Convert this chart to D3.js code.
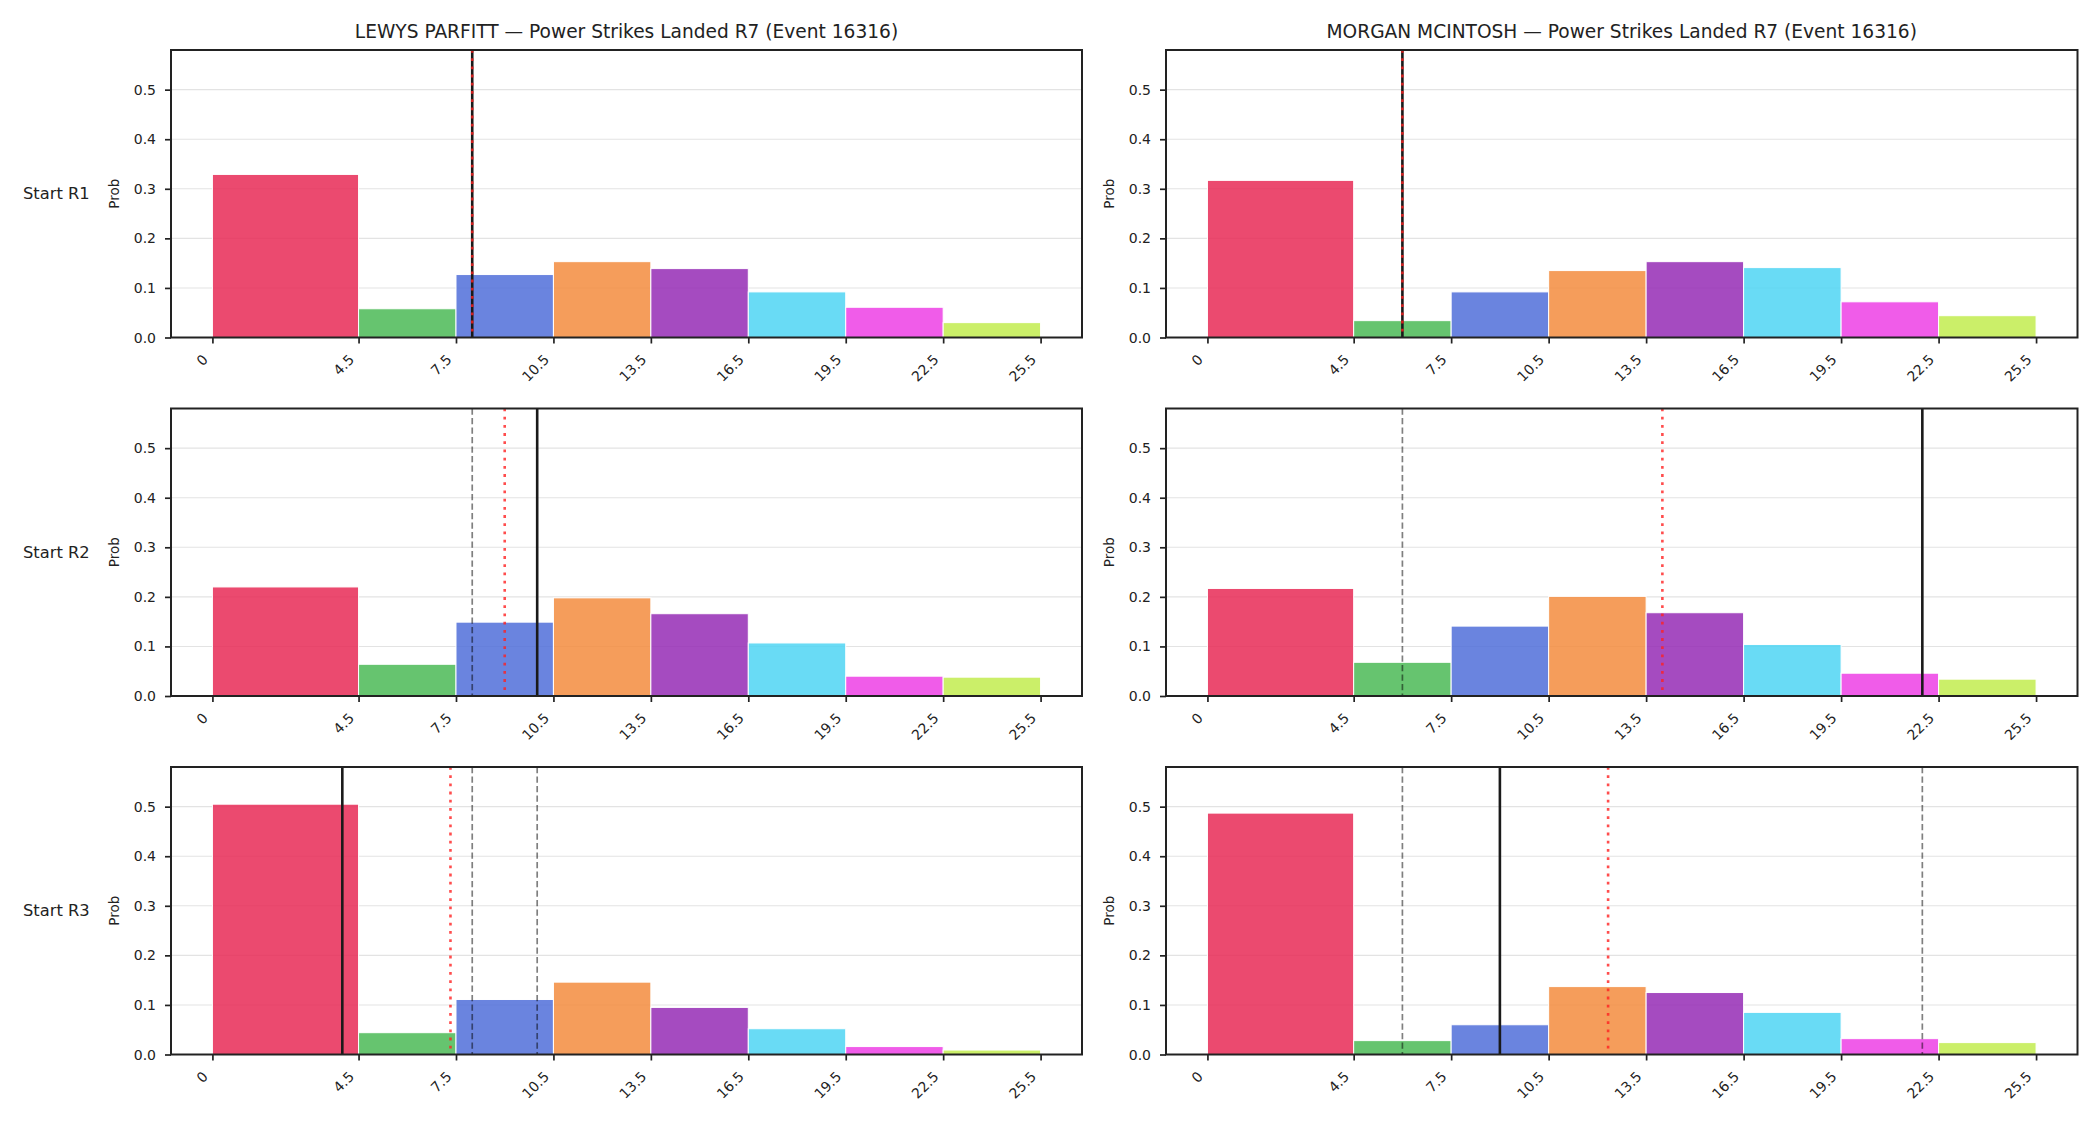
<!DOCTYPE html>
<html>
<head>
<meta charset="utf-8">
<script src="https://cdn.jsdelivr.net/npm/d3@7"></script>
<style>
  html, body { margin: 0; padding: 0; background: #fff; }
  svg { display: block; font-family: "DejaVu Sans", sans-serif; }
</style>
</head>
<body>
<svg id="chart" width="2100" height="1125"></svg>
<script>
// ---------------- data ----------------
const binEdges = [0, 4.5, 7.5, 10.5, 13.5, 16.5, 19.5, 22.5, 25.5];
const xTickLabels = ["0", "4.5", "7.5", "10.5", "13.5", "16.5", "19.5", "22.5", "25.5"];
const yTicks = [0.0, 0.1, 0.2, 0.3, 0.4, 0.5];
const fighters = ["LEWYS PARFITT", "MORGAN MCINTOSH"];
const roundLabels = ["Start R1", "Start R2", "Start R3"];
const titleSuffix = " — Power Strikes Landed R7 (Event 16316)";

// probability per bin, per round (rows)
const parfittR1 = [0.329, 0.058, 0.127, 0.153, 0.139, 0.092, 0.061, 0.030];
const parfittR2 = [0.220, 0.064, 0.149, 0.198, 0.166, 0.107, 0.040, 0.038];
const parfittR3 = [0.505, 0.044, 0.111, 0.146, 0.095, 0.052, 0.016, 0.009];
const mcintoshR1 = [0.317, 0.034, 0.092, 0.135, 0.153, 0.141, 0.072, 0.044];
const mcintoshR2 = [0.217, 0.068, 0.141, 0.201, 0.168, 0.104, 0.046, 0.034];
const mcintoshR3 = [0.487, 0.028, 0.060, 0.137, 0.125, 0.085, 0.032, 0.024];

// per-round reference lines
const parfittActual = [8, 10, 4];        // solid black (this round), dashed (earlier rounds)
const parfittMean = [8, 9, 7.33];        // dotted red
const mcintoshActual = [6, 22, 9];
const mcintoshMean = [6, 14, 12.33];

// ---------------- style ----------------
const binColors = ["#E72A56", "#4BBA56", "#506ED9", "#F38C3E", "#952BB5", "#4FD5F3", "#ED3FE5", "#C2EC4F"];
const cols = [{ x0: 171, x1: 1082 }, { x0: 1166, x1: 2077.5 }];
const rowTops = [50, 408.5, 767];
const axH = 287.5;
const ink = "#222";
const tickFont = "14px";

const panels = [
  { f: 0, r: 0, probs: parfittR1, actual: parfittActual, mean: parfittMean },
  { f: 0, r: 1, probs: parfittR2, actual: parfittActual, mean: parfittMean },
  { f: 0, r: 2, probs: parfittR3, actual: parfittActual, mean: parfittMean },
  { f: 1, r: 0, probs: mcintoshR1, actual: mcintoshActual, mean: mcintoshMean },
  { f: 1, r: 1, probs: mcintoshR2, actual: mcintoshActual, mean: mcintoshMean },
  { f: 1, r: 2, probs: mcintoshR3, actual: mcintoshActual, mean: mcintoshMean },
];

const svg = d3.select("#chart");
const defs = svg.append("defs");
const pad = 0.05 * (binEdges[binEdges.length - 1] - binEdges[0]);

panels.forEach((p, idx) => {
  const c = cols[p.f];
  const top = rowTops[p.r], bottom = top + axH;
  const x = d3.scaleLinear().domain([binEdges[0] - pad, binEdges[binEdges.length - 1] + pad]).range([c.x0, c.x1]);
  const y = d3.scaleLinear().domain([0, 0.58]).range([bottom, top]);

  defs.append("clipPath").attr("id", "clip" + idx)
    .append("rect").attr("x", c.x0).attr("y", top).attr("width", c.x1 - c.x0).attr("height", axH);

  const g = svg.append("g");
  const plot = g.append("g").attr("clip-path", `url(#clip${idx})`);

  // grid
  plot.selectAll("line.grid").data(yTicks.filter(t => t > 0)).join("line")
    .attr("x1", c.x0).attr("x2", c.x1)
    .attr("y1", d => y(d)).attr("y2", d => y(d))
    .attr("stroke", "#e3e3e3").attr("stroke-width", 1.1);

  // bars
  plot.selectAll("rect.bar").data(p.probs).join("rect")
    .attr("x", (d, i) => x(binEdges[i]))
    .attr("width", (d, i) => x(binEdges[i + 1]) - x(binEdges[i]))
    .attr("y", d => y(d))
    .attr("height", d => y(0) - y(d))
    .attr("fill", (d, i) => binColors[i])
    .attr("fill-opacity", 0.85)
    .attr("stroke", "#fff").attr("stroke-width", 1);

  // previous rounds (dashed)
  const prev = p.actual.slice(0, p.r);
  plot.selectAll("line.prev").data(prev).join("line")
    .attr("x1", d => x(d)).attr("x2", d => x(d))
    .attr("y1", top).attr("y2", bottom)
    .attr("stroke", "#000").attr("stroke-opacity", 0.5)
    .attr("stroke-width", 1.7).attr("stroke-dasharray", "6.3,3.2");

  // current round (solid)
  plot.append("line")
    .attr("x1", x(p.actual[p.r])).attr("x2", x(p.actual[p.r]))
    .attr("y1", top).attr("y2", bottom)
    .attr("stroke", "#1a1a1a").attr("stroke-width", 2.6);

  // running mean (dotted red)
  plot.append("line")
    .attr("x1", x(p.mean[p.r])).attr("x2", x(p.mean[p.r]))
    .attr("y1", top).attr("y2", bottom)
    .attr("stroke", "#ff2020").attr("stroke-opacity", 0.8)
    .attr("stroke-width", 2.6).attr("stroke-dasharray", "2.8,5.4");

  // y axis (tick marks from d3 axis, labels placed with the same scale)
  const ya = g.append("g").attr("transform", `translate(${c.x0},0)`)
    .call(d3.axisLeft(y).tickValues(yTicks).tickSize(6).tickFormat(""));
  ya.select(".domain").remove();
  ya.selectAll(".tick line").attr("stroke", ink).attr("stroke-width", 1.7);
  g.selectAll("text.ylab").data(yTicks).join("text")
    .attr("x", c.x0 - 15).attr("y", d => y(d)).attr("dy", "0.36em")
    .attr("text-anchor", "end").attr("fill", ink)
    .style("font-size", tickFont).style("font-family", "DejaVu Sans")
    .text(d => d3.format(".1f")(d));

  // x axis
  const xa = g.append("g").attr("transform", `translate(0,${bottom})`)
    .call(d3.axisBottom(x).tickValues(binEdges).tickSize(6).tickFormat(""));
  xa.select(".domain").remove();
  xa.selectAll(".tick line").attr("stroke", ink).attr("stroke-width", 1.7);
  g.selectAll("text.xlab").data(binEdges).join("text")
    .attr("text-anchor", "end").attr("fill", ink)
    .style("font-size", tickFont).style("font-family", "DejaVu Sans")
    .attr("transform", d => `translate(${x(d) - 3.5},${bottom + 23}) rotate(-45)`)
    .text((d, i) => xTickLabels[i]);

  // frame
  g.append("rect").attr("x", c.x0).attr("y", top).attr("width", c.x1 - c.x0).attr("height", axH)
    .attr("fill", "none").attr("stroke", ink).attr("stroke-width", 2);

  // y label
  g.append("text")
    .attr("transform", `translate(${c.x0 - 52},${(top + bottom) / 2}) rotate(-90)`)
    .attr("text-anchor", "middle").attr("fill", ink)
    .style("font-size", "13.5px")
    .text("Prob");

  // row label (left column only)
  if (p.f === 0) {
    g.append("text").attr("x", 23).attr("y", (top + bottom) / 2).attr("dy", "0.35em")
      .style("font-size", "16.3px").attr("fill", ink).text(roundLabels[p.r]);
  }
  // title (top row only)
  if (p.r === 0) {
    g.append("text").attr("x", (c.x0 + c.x1) / 2).attr("y", 38)
      .attr("text-anchor", "middle").style("font-size", "18.6px").attr("fill", ink)
      .text(fighters[p.f] + titleSuffix);
  }
});
</script>
</body>
</html>
